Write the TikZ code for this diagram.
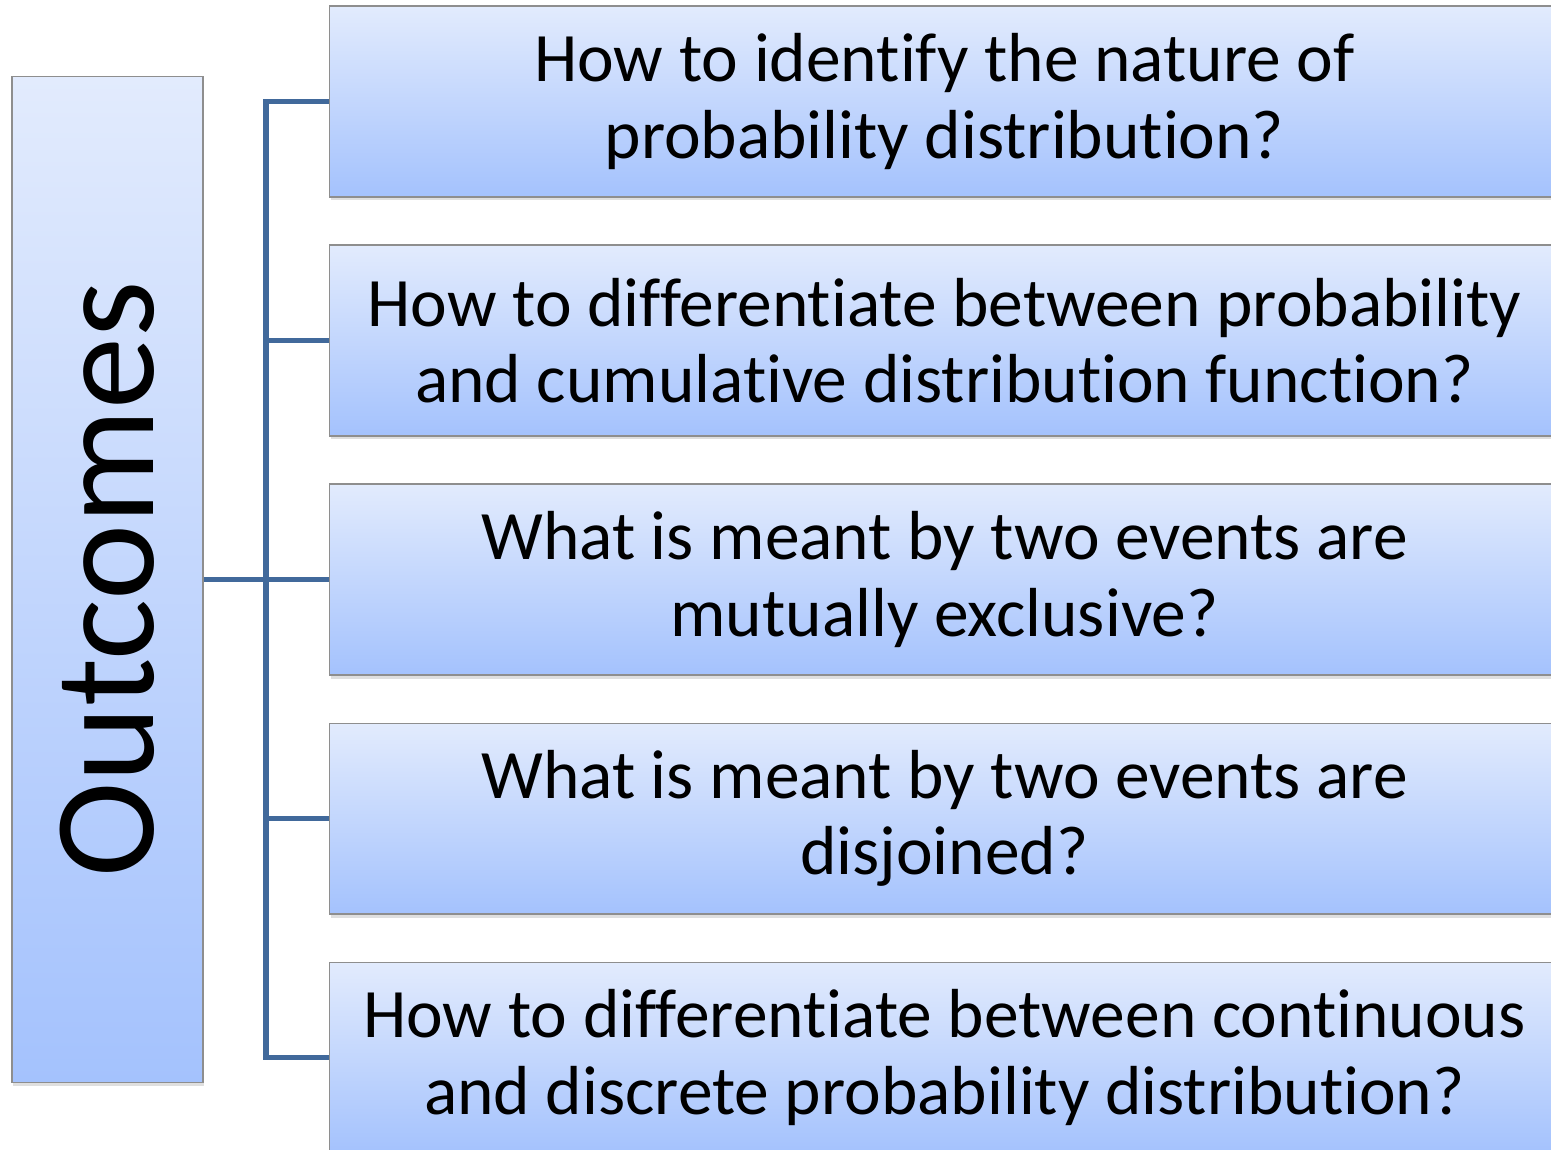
\documentclass[tikz,border=0pt]{standalone}
\usepackage{fontspec}
\setmainfont[Ligatures=NoCommon]{Carlito}
\usetikzlibrary{positioning, shadows}
\definecolor{bxTop}{HTML}{E2EBFD}
\definecolor{bxBot}{HTML}{A4C2FD}
\definecolor{bxEdge}{HTML}{8E8E8E}
\definecolor{lnBlue}{HTML}{41699B}

\begin{document}
\begin{tikzpicture}[x=0.02cm, y=-0.02cm,
    box/.style={draw=bxEdge, line width=0.6pt, top color=bxTop, bottom color=bxBot,
      drop shadow={opacity=0.25, shadow xshift=0.8pt, shadow yshift=-2pt},
      align=center, inner sep=0pt},
    qbox/.style={box, minimum width=24.62cm, minimum height=3.82cm,
      font=\fontsize{39.5}{43.3}\selectfont},
    link/.style={lnBlue, line width=3pt}]
  \useasboundingbox (0,0) rectangle (1551,1149);
  \clip (0,0) rectangle (1551,1149);

  % left block with the rotated title
  \node[box, minimum width=3.82cm, minimum height=20.14cm] (out) at (107.5,579.5) {};
  \node[rotate=90, font=\fontsize{82}{90}\selectfont] (title) at (out.center) {Outcomes};

  % question boxes, one every 239px
  \foreach \i/\txt in {1/{How to identify the nature of\\probability distribution?},
      2/{How to differentiate between probability\\and cumulative distribution function?},
      3/{What is meant by two events are\\mutually exclusive?},
      4/{What is meant by two events are\\disjoined?},
      5/{How to differentiate between continuous\\and discrete probability distribution?}} {
    \node[qbox] (q\i) at (944.5,{101.5+239*(\i-1)}) {\txt};
  }

  % bracket joining the title to the questions
  \coordinate (spine) at (266,579.5);
  \draw[link] (out.east) -- (spine);
  \draw[link, line join=miter] (q1.west) -| (spine) |- (q5.west);
  \foreach \i in {2,3,4}
    \draw[link] (spine |- q\i.west) -- (q\i.west);
\end{tikzpicture}
\end{document}
